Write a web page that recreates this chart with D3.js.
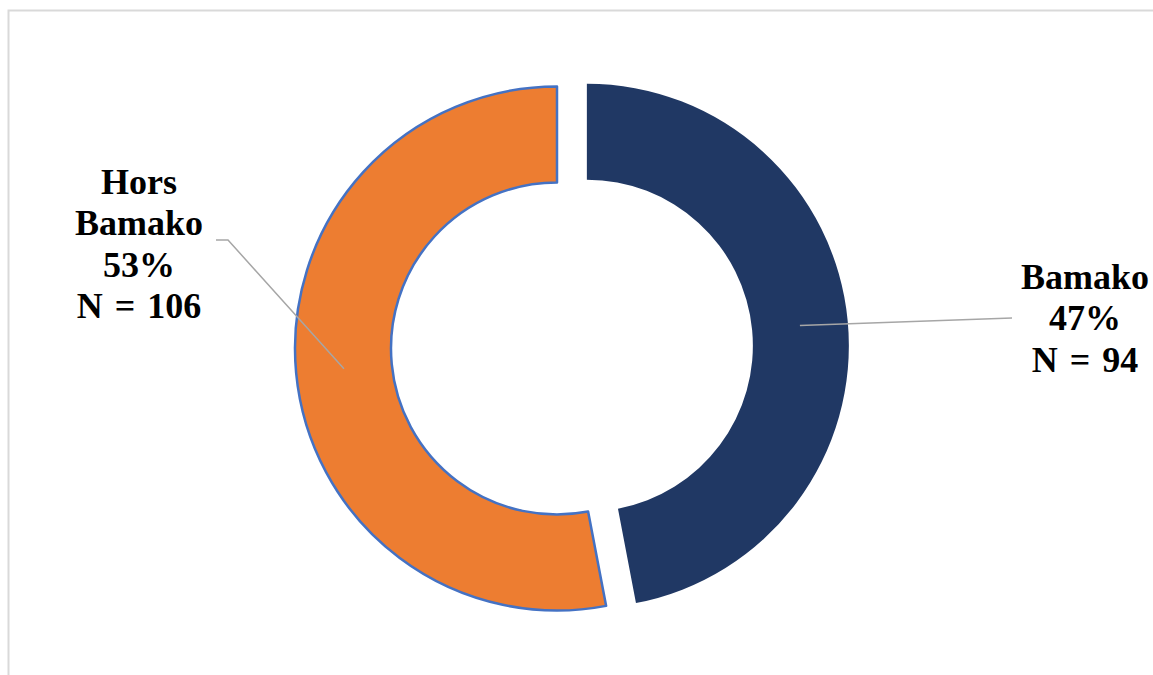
<!DOCTYPE html>
<html>
<head>
<meta charset="utf-8">
<script src="https://cdn.jsdelivr.net/npm/d3@7"></script>
<style>
  html, body { margin: 0; padding: 0; background: #fff; }
  svg { display: block; }
</style>
</head>
<body>
<svg id="chart" width="1153" height="675"></svg>
<script>
// Survey respondents by location
const categories = ["Bamako", "Hors Bamako"];
const counts = [94, 106];
const percents = ["47%", "53%"];
const colors = ["#203864", "#ED7D31"];

const svg = d3.select("#chart");
const W = 1153, H = 675;

// chart area frame (open on right and bottom)
svg.append("path")
  .attr("d", `M${W + 2},10.5 H8.5 V${H + 2}`)
  .attr("fill", "none")
  .attr("stroke", "#D9D9D9")
  .attr("stroke-width", 2);

const cx = 557, cy = 348.5;
const outerR = 262, innerR = 166;
const explode = 30;

const data = categories.map((c, i) => ({ name: c, n: counts[i], pct: percents[i], color: colors[i] }));

const pie = d3.pie().value(d => d.n).sort(null);
const arcs = pie(data);
const arc = d3.arc().innerRadius(innerR).outerRadius(outerR);

const g = svg.append("g").attr("transform", `translate(${cx},${cy})`);

// offset for each slice (Bamako pulled out along its bisector)
const offsets = arcs.map((a, i) => {
  if (i !== 0) return [0, 0];
  const mid = (a.startAngle + a.endAngle) / 2;
  return [explode * Math.sin(mid), -explode * Math.cos(mid)];
});

g.selectAll("path.slice")
  .data(arcs)
  .join("path")
  .attr("class", "slice")
  .attr("transform", (d, i) => `translate(${offsets[i][0]},${offsets[i][1]})`)
  .attr("d", arc)
  .attr("fill", d => d.data.color)
  .attr("stroke", (d, i) => i === 1 ? "#4472C4" : "none")
  .attr("stroke-width", 2.5)
  .attr("stroke-linejoin", "round");

// label blocks and leader anchors
const labelSpecs = [
  { x: 1085, y: 288.5, anchor: [[1012, 318]] },
  { x: 139, y: 193.5, anchor: [[228, 240], [216, 240]] }
];

arcs.forEach((a, i) => {
  const c = arc.centroid(a);
  const start = [cx + c[0] + offsets[i][0], cy + c[1] + offsets[i][1]];
  const pts = [start].concat(labelSpecs[i].anchor);
  svg.append("path")
    .attr("d", d3.line()(pts))
    .attr("fill", "none")
    .attr("stroke", "#A6A6A6")
    .attr("stroke-width", 1.5);
});

labelSpecs.forEach((s, i) => {
  const lines = i === 0
    ? [categories[0], percents[0], `N = ${counts[0]}`]
    : ["Hors", "Bamako", percents[1], `N = ${counts[1]}`];
  const t = svg.append("text")
    .attr("x", s.x)
    .attr("y", s.y)
    .attr("text-anchor", "middle")
    .attr("font-family", "'Liberation Serif', 'Times New Roman', serif")
    .attr("font-weight", "bold")
    .attr("font-size", 36)
    .attr("word-spacing", 3)
    .attr("fill", "#000");
  lines.forEach((l, k) => {
    t.append("tspan").attr("x", s.x).attr("y", s.y + k * 41.6).text(l);
  });
});
</script>
</body>
</html>
